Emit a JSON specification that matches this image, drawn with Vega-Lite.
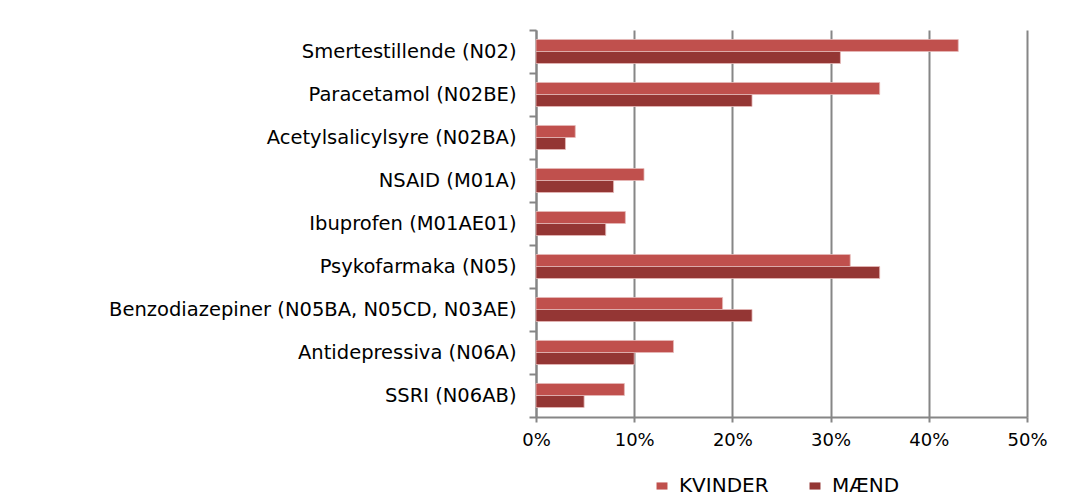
{
  "$schema": "https://vega.github.io/schema/vega-lite/v6.json",
  "autosize": "none",
  "width": 491,
  "height": 387,
  "padding": {"left": 536, "top": 30, "right": 45, "bottom": 85},
  "background": "white",
  "data": {
    "values": [
      {"kategori": "Smertestillende (N02)", "gruppe": "KVINDER", "andel": 0.43},
      {"kategori": "Smertestillende (N02)", "gruppe": "MÆND", "andel": 0.31},
      {"kategori": "Paracetamol (N02BE)", "gruppe": "KVINDER", "andel": 0.35},
      {"kategori": "Paracetamol (N02BE)", "gruppe": "MÆND", "andel": 0.22},
      {"kategori": "Acetylsalicylsyre (N02BA)", "gruppe": "KVINDER", "andel": 0.04},
      {"kategori": "Acetylsalicylsyre (N02BA)", "gruppe": "MÆND", "andel": 0.03},
      {"kategori": "NSAID (M01A)", "gruppe": "KVINDER", "andel": 0.11},
      {"kategori": "NSAID (M01A)", "gruppe": "MÆND", "andel": 0.079},
      {"kategori": "Ibuprofen (M01AE01)", "gruppe": "KVINDER", "andel": 0.091},
      {"kategori": "Ibuprofen (M01AE01)", "gruppe": "MÆND", "andel": 0.071},
      {"kategori": "Psykofarmaka (N05)", "gruppe": "KVINDER", "andel": 0.32},
      {"kategori": "Psykofarmaka (N05)", "gruppe": "MÆND", "andel": 0.35},
      {"kategori": "Benzodiazepiner (N05BA, N05CD, N03AE)", "gruppe": "KVINDER", "andel": 0.19},
      {"kategori": "Benzodiazepiner (N05BA, N05CD, N03AE)", "gruppe": "MÆND", "andel": 0.22},
      {"kategori": "Antidepressiva (N06A)", "gruppe": "KVINDER", "andel": 0.14},
      {"kategori": "Antidepressiva (N06A)", "gruppe": "MÆND", "andel": 0.10},
      {"kategori": "SSRI (N06AB)", "gruppe": "KVINDER", "andel": 0.09},
      {"kategori": "SSRI (N06AB)", "gruppe": "MÆND", "andel": 0.049}
    ]
  },
  "mark": {"type": "bar", "stroke": "#E6B9B8", "strokeWidth": 0.8},
  "encoding": {
    "y": {
      "field": "kategori",
      "type": "nominal",
      "sort": null,
      "scale": {"paddingInner": 0, "paddingOuter": 0},
      "axis": {
        "title": null,
        "domainColor": "#868686",
        "domainWidth": 2,
        "tickColor": "#868686",
        "tickWidth": 2,
        "tickSize": 7,
        "tickBand": "extent",
        "labelFont": "DejaVu Sans",
        "labelFontSize": 19.5,
        "labelColor": "#000000",
        "labelPadding": 13,
        "labelLimit": 530
      }
    },
    "yOffset": {
      "field": "gruppe",
      "type": "nominal",
      "sort": ["KVINDER", "MÆND"],
      "scale": {"paddingInner": 0, "paddingOuter": 0.79}
    },
    "x": {
      "field": "andel",
      "type": "quantitative",
      "scale": {"domain": [0, 0.5], "nice": false},
      "axis": {
        "title": null,
        "format": ".0%",
        "values": [0, 0.1, 0.2, 0.3, 0.4, 0.5],
        "grid": true,
        "gridColor": "#868686",
        "gridWidth": 2,
        "domainColor": "#868686",
        "domainWidth": 2,
        "tickColor": "#868686",
        "tickWidth": 2,
        "tickSize": 5,
        "labelFont": "DejaVu Sans",
        "labelFontSize": 18,
        "labelColor": "#000000",
        "labelPadding": 9,
        "labelFlush": false
      }
    },
    "color": {
      "field": "gruppe",
      "type": "nominal",
      "sort": ["KVINDER", "MÆND"],
      "scale": {"domain": ["KVINDER", "MÆND"], "range": ["#C0504D", "#943634"]},
      "legend": {
        "title": null,
        "orient": "none",
        "direction": "horizontal",
        "legendX": 116,
        "legendY": 446,
        "symbolType": "M-1,-0.65H1V0.65H-1Z",
        "symbolSize": 120,
        "symbolStrokeWidth": 0,
        "labelFont": "DejaVu Sans",
        "labelFontSize": 20,
        "labelColor": "#000000",
        "labelOffset": 7,
        "columnPadding": 36
      }
    }
  },
  "config": {
    "view": {"stroke": null}
  }
}
